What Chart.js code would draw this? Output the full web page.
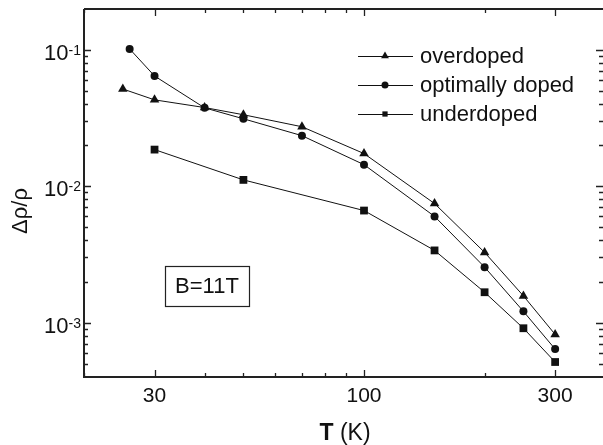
<!DOCTYPE html>
<html>
<head>
<meta charset="utf-8">
<script src="https://cdn.jsdelivr.net/npm/chart.js@4/dist/chart.umd.min.js"></script>
<style>
  html, body { margin: 0; padding: 0; background: #fff; }
  canvas { display: block; }
</style>
</head>
<body>
<canvas id="chart" width="603" height="445"></canvas>
<script>
// Temperatures (K) and magnetoresistance values
const tempOver = [25, 30, 40, 50, 70, 100, 150, 200, 250, 300];
const overdoped = [0.0514, 0.0428, 0.0376, 0.0333, 0.0272, 0.0173, 0.00745, 0.00327, 0.00157, 0.00082];

const tempOpt = [26, 30, 40, 50, 70, 100, 150, 200, 250, 300];
const optimal = [0.101, 0.064, 0.0374, 0.0311, 0.0234, 0.01435, 0.0060, 0.00255, 0.00121, 0.00064];

const tempUnder = [30, 50, 100, 150, 200, 250, 300];
const underdoped = [0.0185, 0.0111, 0.00662, 0.00338, 0.00167, 0.00091, 0.000515];

// Axis ticks
const xMajor = [30, 100, 300];
const xMinor = [20, 40, 50, 60, 70, 80, 90, 200];
const yMajor = [1e-3, 1e-2, 1e-1];
const yMajorExp = ["-3", "-2", "-1"];

const FONT = "'Liberation Sans', Arial, Helvetica, sans-serif";
const INK = "#111";

function toPoints(xs, ys) {
    return xs.map((x, i) => ({ x: x, y: ys[i] }));
}

function yMinorTicks(min, max) {
    const out = [];
    for (let d = -4; d <= -1; d++) {
        for (let m = 2; m <= 9; m++) {
            const v = m * Math.pow(10, d);
            if (v > min && v < max) out.push(v);
        }
    }
    return out;
}

// Little marker shapes for the legend
function marker(ctx, style, x, y, r) {
    ctx.beginPath();
    if (style === "triangle") {
        ctx.moveTo(x, y - r);
        ctx.lineTo(x + r * 0.87, y + r * 0.5);
        ctx.lineTo(x - r * 0.87, y + r * 0.5);
        ctx.closePath();
    } else if (style === "circle") {
        ctx.arc(x, y, r, 0, Math.PI * 2);
    } else {
        ctx.rect(x - r * 0.75, y - r * 0.75, r * 1.5, r * 1.5);
    }
    ctx.fill();
}

const decorations = {
    id: "decorations",
    afterDraw(chart) {
        const ctx = chart.ctx;
        const area = chart.chartArea;
        const xs = chart.scales.x;
        const ys = chart.scales.y;
        ctx.save();

        // frame
        ctx.strokeStyle = "#222";
        ctx.lineWidth = 2;
        ctx.beginPath();
        ctx.moveTo(area.left, area.top);
        ctx.lineTo(area.right + 3, area.top);
        ctx.moveTo(area.left, area.top);
        ctx.lineTo(area.left, area.bottom);
        ctx.lineTo(area.right + 3, area.bottom);
        ctx.stroke();

        // inward ticks on all four sides
        ctx.lineWidth = 1.3;
        ctx.beginPath();
        const xt = (v, len) => {
            const px = Math.round(xs.getPixelForValue(v)) + 0.5;
            ctx.moveTo(px, area.bottom); ctx.lineTo(px, area.bottom - len);
            ctx.moveTo(px, area.top); ctx.lineTo(px, area.top + len);
        };
        const yt = (v, len) => {
            const py = Math.round(ys.getPixelForValue(v)) + 0.5;
            ctx.moveTo(area.left, py); ctx.lineTo(area.left + len, py);
            ctx.moveTo(area.right, py); ctx.lineTo(area.right - len, py);
        };
        xMajor.forEach(v => xt(v, 7));
        xMinor.forEach(v => xt(v, 4));
        yMajor.forEach(v => yt(v, 7));
        yMinorTicks(ys.min, ys.max).forEach(v => yt(v, 4));
        ctx.stroke();

        ctx.fillStyle = INK;

        // x tick labels
        ctx.font = "21px " + FONT;
        ctx.textAlign = "center";
        ctx.textBaseline = "alphabetic";
        xMajor.forEach(v => {
            ctx.fillText(String(v), xs.getPixelForValue(v), 402);
        });

        // y tick labels: 10 with superscript exponent
        yMajor.forEach((v, i) => {
            const py = ys.getPixelForValue(v);
            ctx.font = "14px " + FONT;
            ctx.textAlign = "right";
            const expW = ctx.measureText(yMajorExp[i]).width;
            ctx.fillText(yMajorExp[i], 81, py + 5);
            ctx.font = "22px " + FONT;
            ctx.fillText("10", 81 - expW, py + 10);
        });

        // x title: bold T, normal (K)
        ctx.textAlign = "left";
        ctx.font = "bold 23px " + FONT;
        const tW = ctx.measureText("T").width;
        ctx.font = "23px " + FONT;
        const kW = ctx.measureText(" (K)").width;
        const startX = 345 - (tW + kW) / 2;
        ctx.font = "bold 23px " + FONT;
        ctx.fillText("T", startX, 440);
        ctx.font = "23px " + FONT;
        ctx.fillText(" (K)", startX + tW, 440);

        // y title
        ctx.save();
        ctx.translate(27, 211);
        ctx.rotate(-Math.PI / 2);
        ctx.textAlign = "center";
        ctx.font = "22px " + FONT;
        ctx.fillText("\u0394\u03c1/\u03c1", 0, 0);
        ctx.restore();

        // legend
        const rows = [56, 85, 114];
        ctx.font = "22px " + FONT;
        ctx.textAlign = "left";
        ctx.textBaseline = "middle";
        chart.data.datasets.forEach((ds, i) => {
            const y = rows[i];
            ctx.strokeStyle = ds.borderColor;
            ctx.lineWidth = 1;
            ctx.beginPath();
            ctx.moveTo(358, y + 0.5);
            ctx.lineTo(413, y + 0.5);
            ctx.stroke();
            ctx.fillStyle = INK;
            marker(ctx, ds.pointStyle, 385, y, ds.pointStyle === "triangle" ? 4.5 : 3.5);
            ctx.fillText(ds.label, 420, y + 1);
        });

        // field annotation box
        ctx.strokeStyle = "#222";
        ctx.lineWidth = 1.2;
        ctx.strokeRect(165.5, 266.5, 84, 40);
        ctx.textAlign = "center";
        ctx.fillText("B=11T", 207, 287);

        ctx.restore();
    }
};

new Chart(document.getElementById("chart"), {
    type: "scatter",
    data: {
        datasets: [
            {
                label: "overdoped",
                data: toPoints(tempOver, overdoped),
                pointStyle: "triangle",
                pointRadius: 5.5,
                borderColor: INK,
                backgroundColor: INK
            },
            {
                label: "optimally doped",
                data: toPoints(tempOpt, optimal),
                pointStyle: "circle",
                pointRadius: 4,
                borderColor: INK,
                backgroundColor: INK
            },
            {
                label: "underdoped",
                data: toPoints(tempUnder, underdoped),
                pointStyle: "rect",
                pointRadius: 5.5,
                borderColor: INK,
                backgroundColor: INK
            }
        ].map(ds => Object.assign(ds, {
            showLine: true,
            borderWidth: 1,
            pointBorderWidth: 0,
            pointHoverRadius: 0
        }))
    },
    options: {
        responsive: false,
        devicePixelRatio: 1,
        animation: false,
        events: [],
        layout: { autoPadding: false, padding: { top: 9, right: 0, left: 0, bottom: 0 } },
        plugins: {
            legend: { display: false },
            tooltip: { enabled: false }
        },
        scales: {
            x: {
                type: "logarithmic",
                min: 20,
                max: 395,
                grid: { display: false },
                border: { display: false },
                ticks: { display: false },
                afterFit: s => { s.height = 68; }
            },
            y: {
                type: "logarithmic",
                min: 4e-4,
                max: 0.198,
                grid: { display: false },
                border: { display: false },
                ticks: { display: false },
                afterFit: s => { s.width = 84; }
            }
        }
    },
    plugins: [decorations]
});
</script>
</body>
</html>
